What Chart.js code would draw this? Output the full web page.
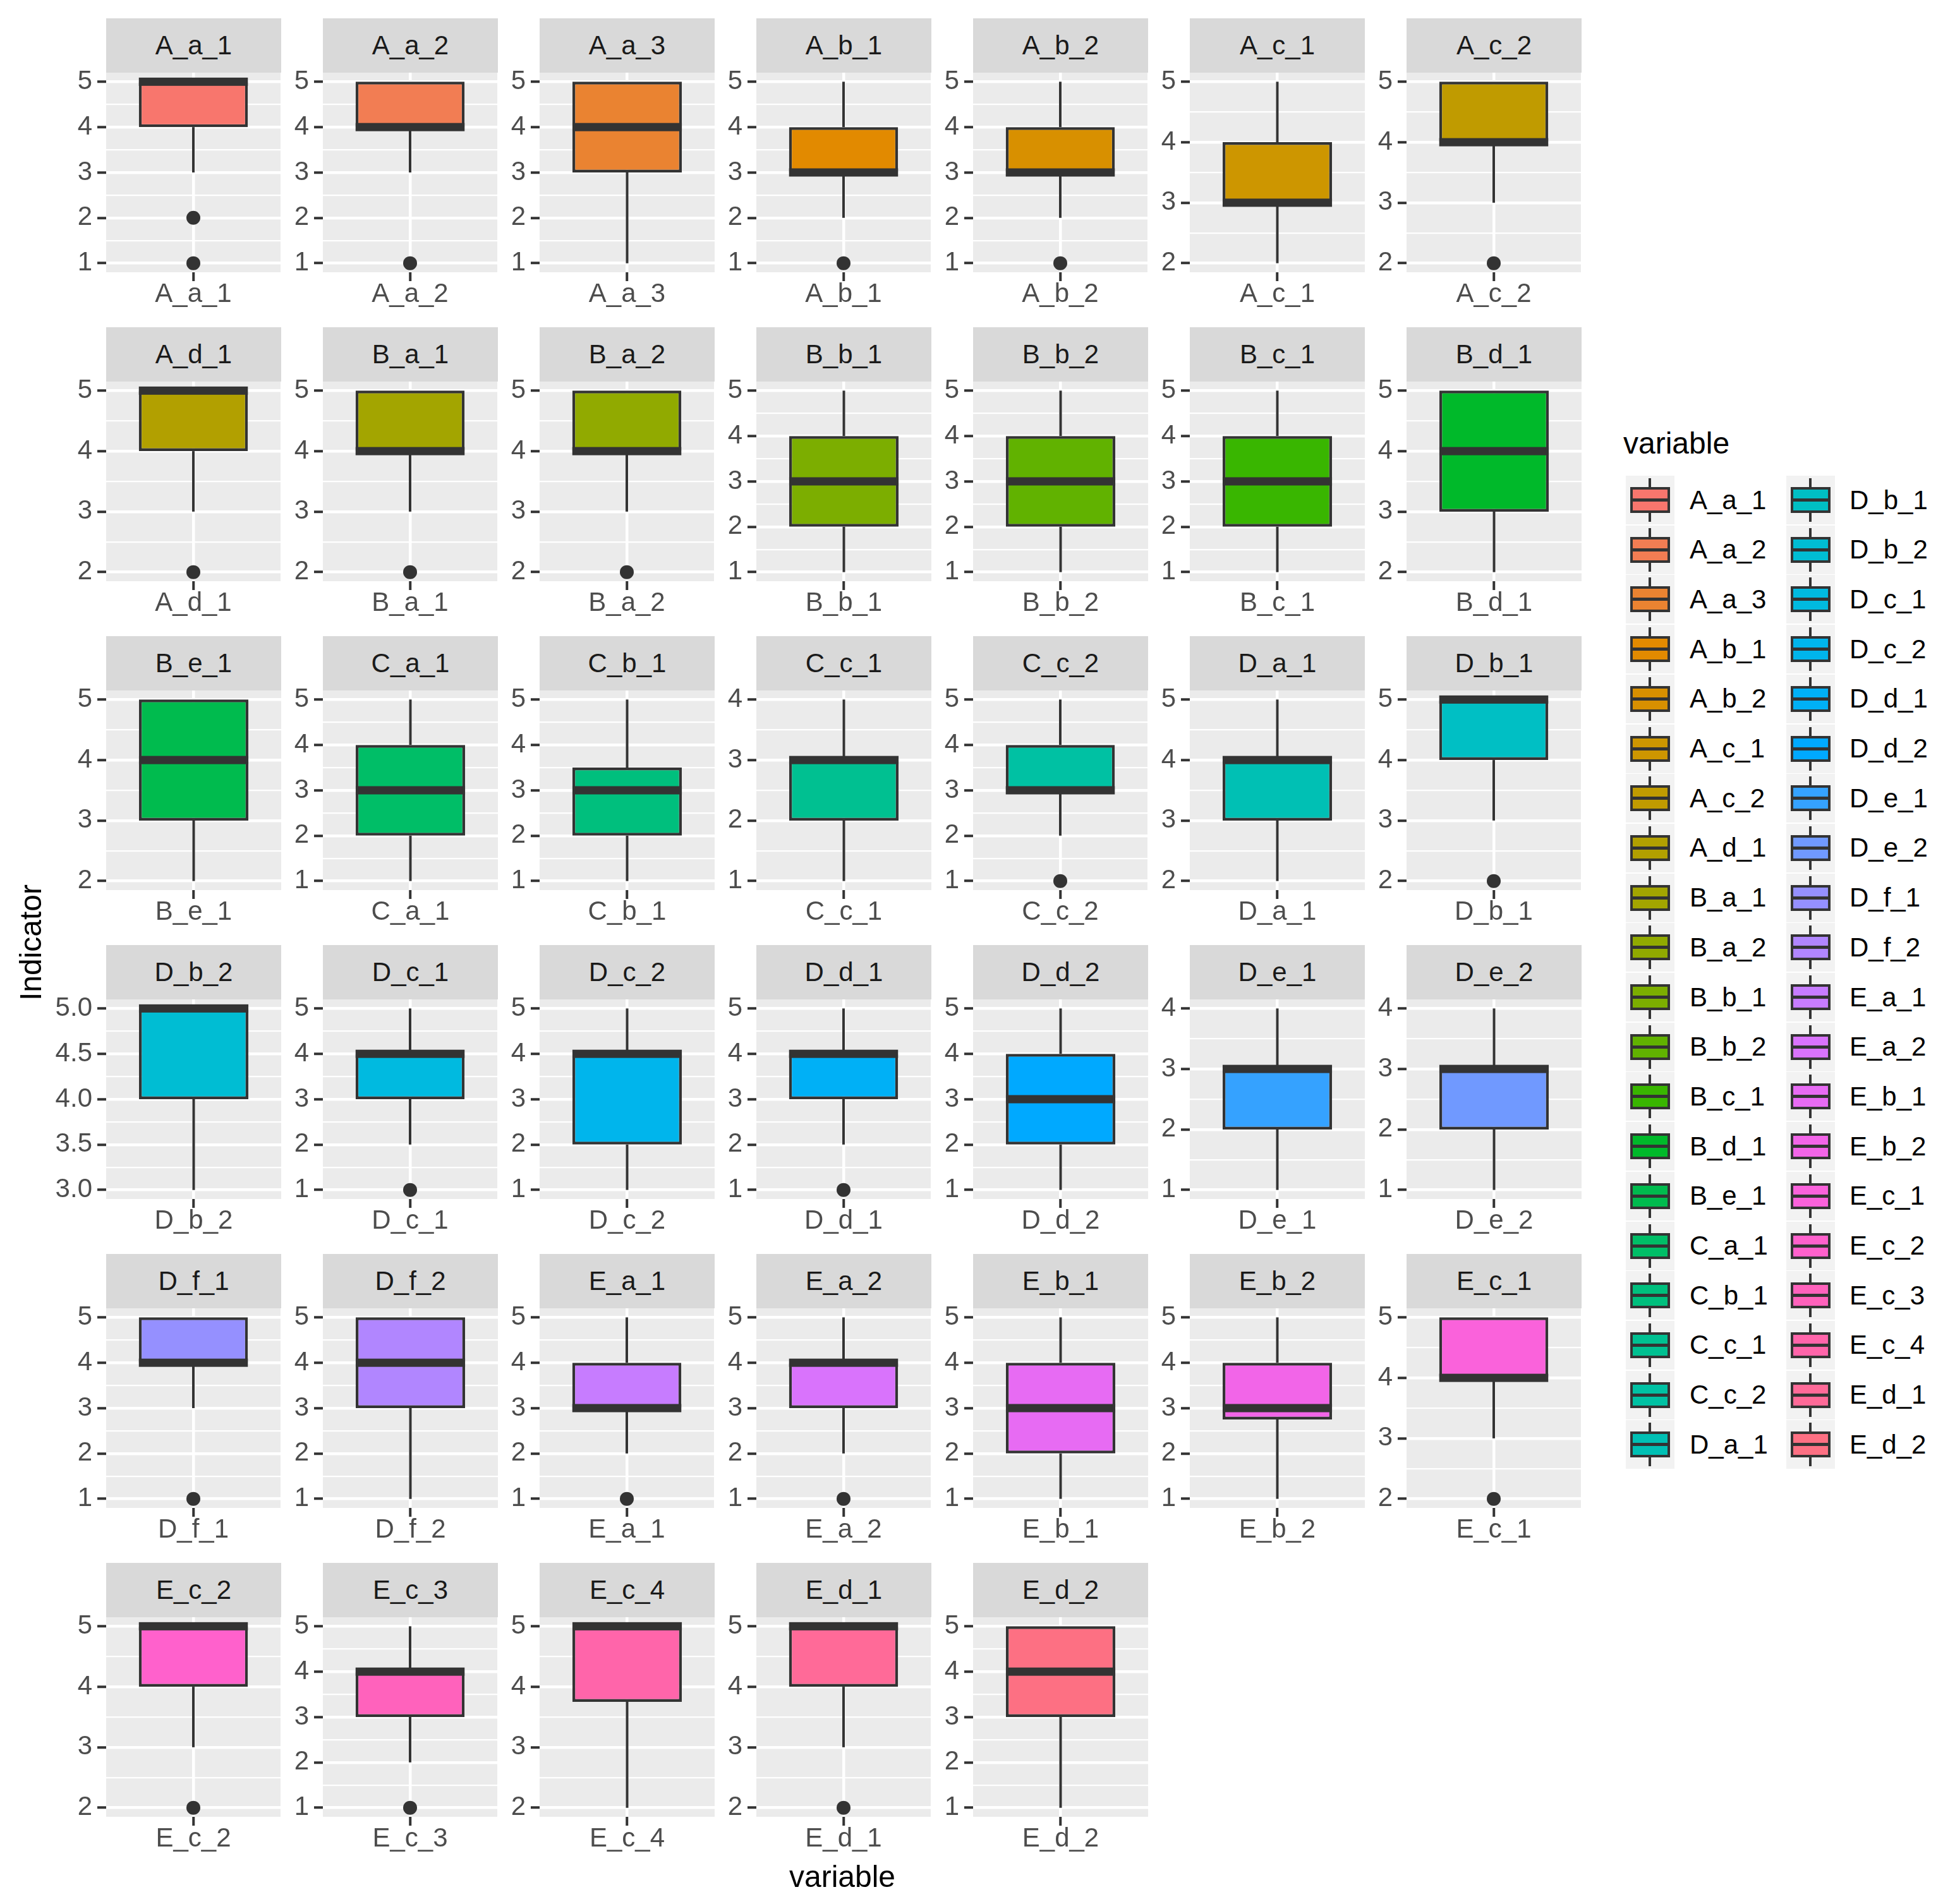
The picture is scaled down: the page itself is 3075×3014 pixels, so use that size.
<!DOCTYPE html>
<html>
<head>
<meta charset="utf-8">
<script src="https://cdn.jsdelivr.net/npm/chart.js@4.4.0/dist/chart.umd.min.js"></script>
<style>
body { margin:0; background:#ffffff; }
#page { position:relative; width:3075px; height:3014px; overflow:hidden; font-family:"Liberation Sans", Arial, sans-serif; }
.panel { position:absolute; }
.strip { position:absolute; width:277px; height:86px; background:#D9D9D9; color:#1A1A1A; font-size:42px; line-height:86px; text-align:center; }
.title { position:absolute; font-size:48px; line-height:48px; height:48px; color:#000000; white-space:nowrap; }
.key { position:absolute; width:77px; height:77px; background:#F2F2F2; }
.key .wh { position:absolute; left:36px; top:4px; width:4px; height:69px; background:#333333; }
.key .bx { position:absolute; left:7px; top:18px; width:63px; height:41px; box-sizing:border-box; border:4px solid #333333; }
.key .md { position:absolute; left:7px; top:36px; width:63px; height:5px; background:#333333; }
.klab { position:absolute; font-size:42px; line-height:42px; height:42px; color:#000000; white-space:nowrap; }
</style>
</head>
<body>
<div id="page"></div>
<script>
// facet names, in panel order
var names = ['A_a_1','A_a_2','A_a_3','A_b_1','A_b_2','A_c_1','A_c_2',
             'A_d_1','B_a_1','B_a_2','B_b_1','B_b_2','B_c_1','B_d_1',
             'B_e_1','C_a_1','C_b_1','C_c_1','C_c_2','D_a_1','D_b_1',
             'D_b_2','D_c_1','D_c_2','D_d_1','D_d_2','D_e_1','D_e_2',
             'D_f_1','D_f_2','E_a_1','E_a_2','E_b_1','E_b_2','E_c_1',
             'E_c_2','E_c_3','E_c_4','E_d_1','E_d_2'];

// box statistics
var lowerWhisker = [3,3,1,2,2,2,3,  3,3,3,1,1,1,2,  2,1,1,1,2,2,3,  3,2,1,2,1,1,1,  3,1,2,2,1,1,3,  3,2,2,3,1];
var lowerHinge   = [4,4,3,3,3,3,4,  4,4,4,2,2,2,3,  3,2,2,2,3,3,4,  4,3,2,3,2,2,2,  4,3,3,3,2,2.75,4,  4,3,3.75,4,3];
var medians      = [5,4,4,3,3,3,4,  5,4,4,3,3,3,4,  4,3,3,3,3,4,5,  5,4,4,4,3,3,3,  4,4,3,4,3,3,4,  5,4,5,5,4];
var upperHinge   = [5,5,5,4,4,4,5,  5,5,5,4,4,4,5,  5,4,3.5,3,4,4,5,  5,4,4,4,4,3,3,  5,5,4,4,4,4,5,  5,4,5,5,5];
var upperWhisker = [5,5,5,5,5,5,5,  5,5,5,5,5,5,5,  5,5,5,4,5,5,5,  5,5,5,5,5,4,4,  5,5,5,5,5,5,5,  5,5,5,5,5];
var outliers = [[2,1],[1],[],[1],[1],[],[2],
                [2],[2],[2],[],[],[],[],
                [],[],[],[],[1],[],[2],
                [],[1],[],[1],[],[],[],
                [1],[],[1],[1],[],[],[2],
                [2],[1],[],[2],[]];

var FONT = '"Liberation Sans", Arial, sans-serif';
var PANEL_W = 277, PANEL_H = 316, STRIP_H = 86;
var COL_X0 = 168, COL_STEP = 343, ROW_Y0 = 29, ROW_STEP = 489;
var Y_AXIS_W = 150, X_AXIS_H = 90, PAD_TOP = 40, PAD_RIGHT = 10;

// ggplot default hue palette
function hcl(h, c, l) {
  var hr = h * Math.PI / 180;
  var U = c * Math.cos(hr), V = c * Math.sin(hr);
  var Y = 100 * Math.pow((l + 16) / 116, 3);
  var Xn = 95.047, Yn = 100, Zn = 108.883;
  var den = Xn + 15 * Yn + 3 * Zn;
  var un = 4 * Xn / den, vn = 9 * Yn / den;
  var u = U / (13 * l) + un, v = V / (13 * l) + vn;
  var X = 9 * Y * u / (4 * v);
  var Z = -X / 3 - 5 * Y + 3 * Y / v;
  X /= 100; Y /= 100; Z /= 100;
  var rgb = [3.240479 * X - 1.537150 * Y - 0.498535 * Z,
            -0.969256 * X + 1.875992 * Y + 0.041556 * Z,
             0.055648 * X - 0.204043 * Y + 1.057311 * Z];
  return 'rgb(' + rgb.map(function (t) {
    t = t <= 0.0031308 ? 12.92 * t : 1.055 * Math.pow(t, 1 / 2.4) - 0.055;
    return Math.round(Math.max(0, Math.min(1, t)) * 255);
  }).join(',') + ')';
}
var colors = names.map(function (n, i) { return hcl(15 + 360 * i / names.length, 100, 65); });

var panelBg = {
  id: 'panelBg',
  beforeDraw: function (chart) {
    var a = chart.chartArea, ctx = chart.ctx;
    ctx.save();
    ctx.fillStyle = '#EBEBEB';
    ctx.fillRect(a.left, a.top, a.right - a.left, a.bottom - a.top);
    ctx.restore();
  }
};

var medianLine = {
  id: 'medianLine',
  afterDatasetsDraw: function (chart, args, opts) {
    var bar = chart.getDatasetMeta(0).data[0];
    var y = chart.scales.y.getPixelForValue(opts.value);
    var ctx = chart.ctx;
    ctx.save();
    ctx.fillStyle = '#333333';
    ctx.fillRect(bar.x - bar.width / 2, y - 6.5, bar.width, 13);
    ctx.restore();
  }
};

var page = document.getElementById('page');

function isMajor(v, step) {
  return Math.abs(v / step - Math.round(v / step)) < 1e-6;
}

function drawPanel(i) {
  var name = names[i];
  var col = i % 7, row = Math.floor(i / 7);
  var left = COL_X0 + COL_STEP * col;
  var stripTop = ROW_Y0 + ROW_STEP * row;
  var top = stripTop + STRIP_H;

  var strip = document.createElement('div');
  strip.className = 'strip';
  strip.style.left = left + 'px';
  strip.style.top = stripTop + 'px';
  strip.textContent = name;
  page.appendChild(strip);

  var lo = Math.min.apply(null, [lowerWhisker[i]].concat(outliers[i]));
  var hi = Math.max.apply(null, [upperWhisker[i]].concat(outliers[i]));
  var span = hi - lo;
  var ymin = lo - 0.05 * span, ymax = hi + 0.05 * span;
  var step = span <= 2 ? 0.5 : 1;
  var minor = step / 2;
  var tickVals = [];
  for (var v = Math.ceil(ymin / minor) * minor; v <= ymax + 1e-9; v += minor) {
    tickVals.push(Math.round(v * 1000) / 1000);
  }

  var canvas = document.createElement('canvas');
  canvas.className = 'panel';
  var cw = Y_AXIS_W + PANEL_W + PAD_RIGHT, ch = PAD_TOP + PANEL_H + X_AXIS_H;
  canvas.width = cw; canvas.height = ch;
  canvas.style.width = cw + 'px'; canvas.style.height = ch + 'px';
  canvas.style.left = (left - Y_AXIS_W) + 'px';
  canvas.style.top = (top - PAD_TOP) + 'px';
  page.appendChild(canvas);

  new Chart(canvas, {
    type: 'bar',
    data: {
      labels: [name],
      datasets: [
        { type: 'bar', data: [[lowerHinge[i], upperHinge[i]]], backgroundColor: colors[i],
          borderColor: '#333333', borderWidth: 4.5, borderSkipped: false,
          barPercentage: 0.625, categoryPercentage: 1, order: 1 },
        { type: 'line', data: [{ x: name, y: lowerWhisker[i] }, { x: name, y: lowerHinge[i] }],
          borderColor: '#333333', borderWidth: 4, pointRadius: 0, order: 2 },
        { type: 'line', data: [{ x: name, y: upperHinge[i] }, { x: name, y: upperWhisker[i] }],
          borderColor: '#333333', borderWidth: 4, pointRadius: 0, order: 2 },
        { type: 'line', showLine: false,
          data: outliers[i].map(function (o) { return { x: name, y: o }; }),
          pointRadius: 11, pointBackgroundColor: '#333333', pointBorderWidth: 0, order: 3 }
      ]
    },
    options: {
      responsive: false,
      animation: false,
      devicePixelRatio: 1,
      layout: { padding: { top: PAD_TOP, right: PAD_RIGHT, left: 0, bottom: 0 } },
      plugins: {
        legend: { display: false },
        tooltip: { enabled: false },
        medianLine: { value: medians[i] }
      },
      scales: {
        x: {
          type: 'category',
          offset: true,
          afterFit: function (s) { s.height = X_AXIS_H; },
          border: { display: false },
          grid: { offset: false, color: '#FFFFFF', lineWidth: 4.5, tickColor: '#333333',
                  tickWidth: 4, tickLength: 14, drawTicks: true },
          ticks: { color: '#4D4D4D', font: { family: FONT, size: 42, lineHeight: 1 },
                   padding: 0, maxRotation: 0, autoSkip: false }
        },
        y: {
          type: 'linear',
          min: ymin,
          max: ymax,
          afterBuildTicks: function (s) {
            s.ticks = tickVals.map(function (t) { return { value: t }; });
          },
          afterFit: function (s) { s.width = Y_AXIS_W; },
          border: { display: false },
          grid: {
            color: '#FFFFFF',
            lineWidth: function (c) { return c.tick && isMajor(c.tick.value, step) ? 4.5 : 2.3; },
            tickColor: function (c) { return c.tick && isMajor(c.tick.value, step) ? '#333333' : 'rgba(0,0,0,0)'; },
            tickWidth: 4,
            tickLength: 14,
            drawTicks: true
          },
          ticks: {
            autoSkip: false,
            padding: 8,
            color: '#4D4D4D',
            font: { family: FONT, size: 42, lineHeight: 1 },
            callback: function (val) {
              if (!isMajor(val, step)) return '';
              return step < 1 ? val.toFixed(1) : String(val);
            }
          }
        }
      }
    },
    plugins: [panelBg, medianLine]
  });
}

for (var i = 0; i < names.length; i++) {
  drawPanel(i);
}

// axis titles
var xt = document.createElement('div');
xt.className = 'title';
xt.textContent = 'variable';
xt.style.width = '400px';
xt.style.textAlign = 'center';
xt.style.left = (1333 - 200) + 'px';
xt.style.top = '2947px';
page.appendChild(xt);

var yt = document.createElement('div');
yt.className = 'title';
yt.textContent = 'Indicator';
yt.style.width = '400px';
yt.style.textAlign = 'center';
yt.style.left = (49 - 200) + 'px';
yt.style.top = (1492 - 24) + 'px';
yt.style.transform = 'rotate(-90deg)';
page.appendChild(yt);

// legend
var lt = document.createElement('div');
lt.className = 'title';
lt.textContent = 'variable';
lt.style.left = '2569px';
lt.style.top = '678px';
page.appendChild(lt);

var KEY_TOP = 753, KEY_STEP = 78.7;
names.forEach(function (name, i) {
  var c = Math.floor(i / 20), r = i % 20;
  var kx = c ? 2827 : 2573, lx = c ? 2927 : 2674;
  var ky = KEY_TOP + KEY_STEP * r;
  var key = document.createElement('div');
  key.className = 'key';
  key.style.left = kx + 'px';
  key.style.top = ky + 'px';
  key.innerHTML = '<div class="wh"></div><div class="bx" style="background:' + colors[i] + '"></div><div class="md"></div>';
  page.appendChild(key);
  var lab = document.createElement('div');
  lab.className = 'klab';
  lab.textContent = name;
  lab.style.left = lx + 'px';
  lab.style.top = (ky + 38.5 - 21) + 'px';
  page.appendChild(lab);
});
</script>
</body>
</html>
